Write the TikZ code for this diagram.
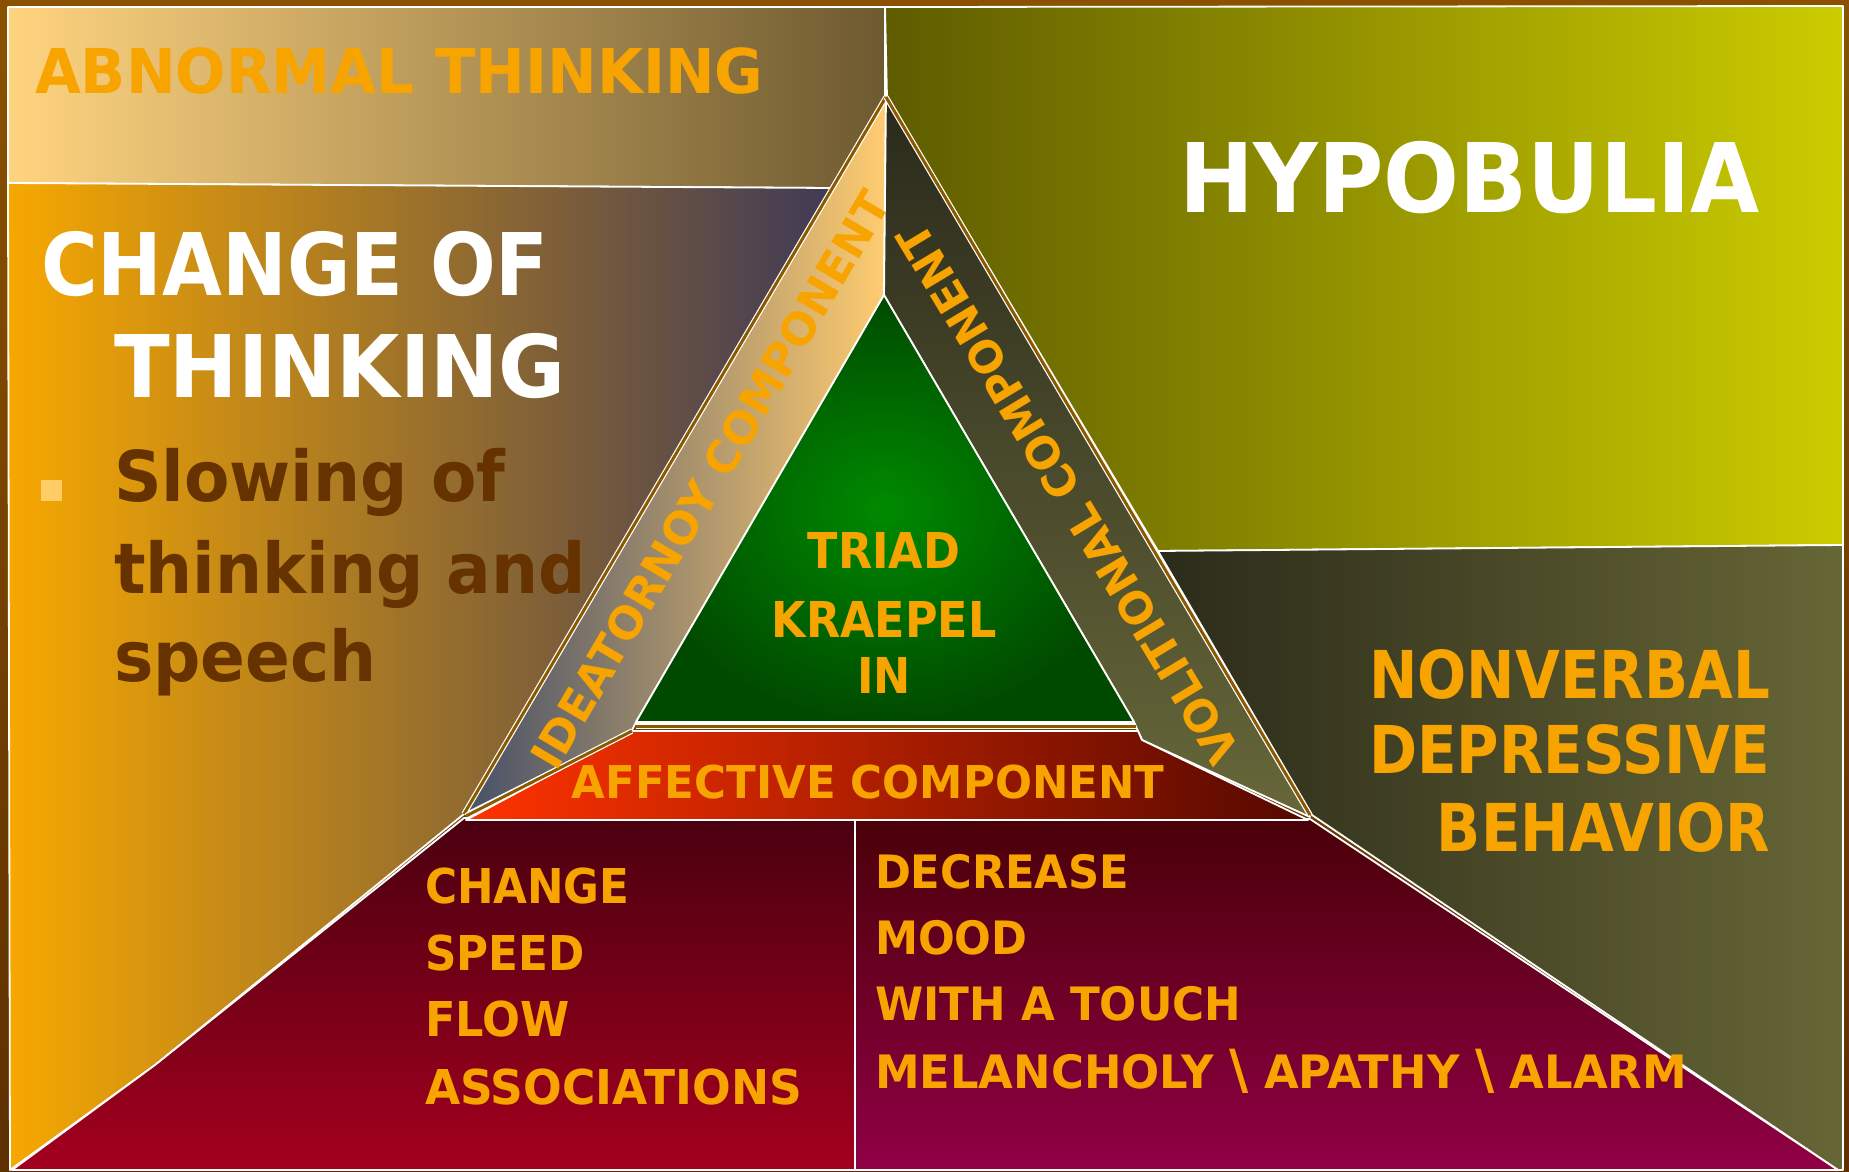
\documentclass[tikz,border=0pt]{standalone}
\usepackage{fontspec}
\usepackage{graphicx}
\setmainfont{DejaVu Sans}
\newfontfamily\stripfont{DejaVu Sans}
\definecolor{bgA}{HTML}{8A5200}
\definecolor{bgB}{HTML}{5E3000}
\definecolor{abnL}{HTML}{FFD480}
\definecolor{abnR}{HTML}{6E5A30}
\definecolor{chgL}{HTML}{F7A800}
\definecolor{chgR}{HTML}{403A55}
\definecolor{hypL}{HTML}{5E5C00}
\definecolor{hypR}{HTML}{CCCC00}
\definecolor{nvbL}{HTML}{2B2B1A}
\definecolor{nvbR}{HTML}{676636}
\definecolor{blT}{HTML}{4A0010}
\definecolor{blB}{HTML}{A3001E}
\definecolor{brT}{HTML}{4A0008}
\definecolor{brB}{HTML}{900045}
\definecolor{grIn}{HTML}{008A00}
\definecolor{grOut}{HTML}{004A00}
\definecolor{ideL}{HTML}{465068}
\definecolor{ideR}{HTML}{FFCC70}
\definecolor{volT}{HTML}{2A2A1C}
\definecolor{volB}{HTML}{67673A}
\definecolor{affL}{HTML}{FF3300}
\definecolor{affR}{HTML}{550800}
\definecolor{orng}{HTML}{F7A400}
\definecolor{dkbrown}{HTML}{663300}
\definecolor{bulletc}{HTML}{FFCC66}
\definecolor{bevelbrown}{HTML}{8B5A00}
\newcommand\fsz[1]{\fontsize{#1}{#1}\selectfont\bfseries}
\newcommand\hs[2]{\scalebox{#1}[1]{#2}}
\begin{document}
\begin{tikzpicture}[x=0.5pt,y=-0.5pt,
  every node/.style={inner sep=0pt,outer sep=0pt},
  edge/.style={draw=white,line width=0.9pt,line join=round},
  bevel/.style={draw=white,double=bevelbrown,double distance=1.5pt,line width=0.6pt},
  otxt/.style={text=orng},
  wtxt/.style={text=white}]
\useasboundingbox (0,0) rectangle (1849,1172);
% background
\shade[top color=bgA,bottom color=bgB] (0,0) rectangle (1849,1172);
% panels
\shade[left color=abnL,right color=abnR,edge] (8,7) -- (885,7) -- (885,97) -- (831,188) -- (8,183) -- cycle;
\shade[left color=chgL,right color=chgR,edge] (8,183) -- (831,188) -- (464,814) -- (155,1065) -- (10,1170) -- cycle;
\shade[left color=hypL,right color=hypR,edge] (885,7) -- (1843,6) -- (1843,545) -- (1158,551) -- (887,97) -- cycle;
\shade[left color=nvbL,right color=nvbR,edge] (1158,551) -- (1843,545) -- (1843,1170) -- (1838,1170) -- (1312,815) -- cycle;
\shade[top color=blT,bottom color=blB,edge] (464,818) -- (855,820) -- (855,1170) -- (12,1170) -- (155,1065) -- cycle;
\shade[top color=brT,bottom color=brB,edge] (855,820) -- (1310,819) -- (1838,1170) -- (855,1170) -- cycle;
% triangle parts
\shade[left color=ideL,right color=ideR,edge] (886,97) -- (884,295) -- (636,722) -- (632,730) -- (464,814) -- cycle;
\shade[top color=volT,bottom color=volB,edge] (886,97) -- (1310,817) -- (1142,740) -- (1134,722) -- (884,295) -- cycle;
\shade[left color=affL,right color=affR,edge] (632,731) -- (1138,731) -- (1142,740) -- (1308,820) -- (466,820) -- cycle;
\shade[inner color=grIn,outer color=grOut,edge] (884,295) -- (1134,722) -- (636,722) -- cycle;
% bevels
\draw[bevel] (886,97) -- (464,814);
\draw[bevel] (886,97) -- (1310,815);
\draw[bevel] (636,726) -- (1136,726);
\draw[bevel] (632,731) -- (466,816);
% texts
\node[otxt,anchor=base west,font=\fsz{30.9pt}] (abn) at (35,94) {\hs{0.96}{ABNORMAL THINKING}};
\node[wtxt,anchor=base west,font=\fsz{43.2pt}] (chg1) at (41,295) {\hs{0.895}{CHANGE OF}};
\node[wtxt,anchor=base west,font=\fsz{43.2pt}] (chg2) at (114,397) {\hs{0.945}{THINKING}};
\fill[bulletc] (41,480) rectangle (62,501);
\node[text=dkbrown,anchor=base west,font=\fsz{35pt}] (sl1) at (114,501) {\hs{0.945}{Slowing of}};
\node[text=dkbrown,anchor=base west,font=\fsz{35pt}] (sl2) at (114,593) {\hs{0.945}{thinking and}};
\node[text=dkbrown,anchor=base west,font=\fsz{35pt}] (sl3) at (114,681) {\hs{0.945}{speech}};
\node[wtxt,anchor=base west,font=\fsz{48pt}] (hyp) at (1179,213) {\hs{0.93}{HYPOBULIA}};
\node[otxt,anchor=base,font=\fsz{24.7pt}] (tr1) at (884,568) {\hs{0.9}{TRIAD}};
\node[otxt,anchor=base,font=\fsz{24.7pt}] (tr2) at (884,637) {\hs{0.9}{KRAEPEL}};
\node[otxt,anchor=base,font=\fsz{24.7pt}] (tr3) at (884,693) {\hs{0.9}{IN}};
\node[otxt,anchor=base,font=\fsz{22.6pt}] (aff) at (868,798) {\hs{0.963}{AFFECTIVE COMPONENT}};
\node[otxt,rotate=59.5,font=\stripfont\fsz{22.3pt}] (ide) at (710,480) {IDEATORNOY COMPONENT};
\node[otxt,rotate=121,font=\stripfont\fsz{22.3pt}] (vol) at (1068,494) {\hs{0.97}{VOLITIONAL COMPONENT}};
\node[otxt,anchor=base east,font=\fsz{33pt}] (nv1) at (1770,698) {\hs{0.877}{NONVERBAL}};
\node[otxt,anchor=base east,font=\fsz{33pt}] (nv2) at (1770,773) {\hs{0.877}{DEPRESSIVE}};
\node[otxt,anchor=base east,font=\fsz{33pt}] (nv3) at (1770,851) {\hs{0.877}{BEHAVIOR}};
\node[otxt,anchor=base west,font=\fsz{24pt}] (cs1) at (425,903) {\hs{0.91}{CHANGE}};
\node[otxt,anchor=base west,font=\fsz{24pt}] (cs2) at (425,970) {\hs{0.91}{SPEED}};
\node[otxt,anchor=base west,font=\fsz{24pt}] (cs3) at (425,1036) {\hs{0.93}{FLOW}};
\node[otxt,anchor=base west,font=\fsz{24pt}] (cs4) at (425,1104) {\hs{0.948}{ASSOCIATIONS}};
\node[otxt,anchor=base west,font=\fsz{23pt}] (dm1) at (875,888) {\hs{0.94}{DECREASE}};
\node[otxt,anchor=base west,font=\fsz{23pt}] (dm2) at (875,954) {\hs{0.94}{MOOD}};
\node[otxt,anchor=base west,font=\fsz{23pt}] (dm3) at (875,1020) {\hs{0.95}{WITH A TOUCH}};
\node[otxt,anchor=base west,font=\fsz{23pt}] (dm4) at (875,1088) {\hs{0.975}{MELANCHOLY {\fontsize{27pt}{27pt}\selectfont\textbackslash}\ APATHY {\fontsize{27pt}{27pt}\selectfont\textbackslash}\ ALARM}};
\end{tikzpicture}
\end{document}
